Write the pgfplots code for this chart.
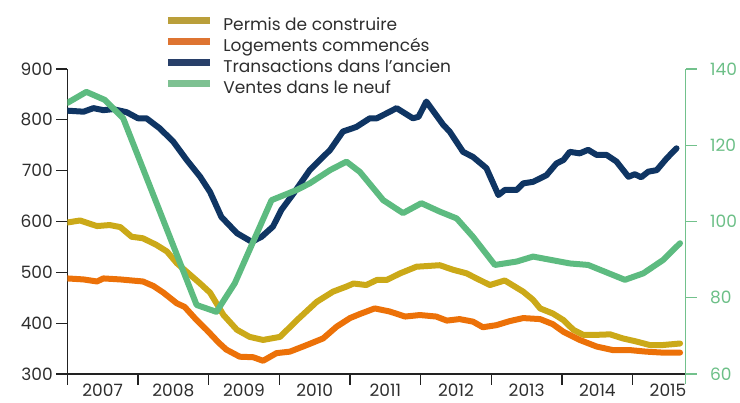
\documentclass[border=0pt]{standalone}
\usepackage{pgfplots}
\pgfplotsset{compat=1.18}
\usepackage{fontspec}
\setmainfont{Poppins}
\definecolor{navyc}{HTML}{0F3563}
\definecolor{greenc}{HTML}{5DBB80}
\definecolor{goldc}{HTML}{CBA918}
\definecolor{orangec}{HTML}{EC7108}
\definecolor{lgold}{HTML}{BA9F3A}
\definecolor{lorange}{HTML}{DE7431}
\definecolor{lnavy}{HTML}{283F69}
\definecolor{lgreen}{HTML}{7EC192}
\definecolor{axisc}{HTML}{222222}
\definecolor{textc}{HTML}{2E2E2E}
\definecolor{gaxis}{HTML}{72C18C}
\definecolor{gtext}{HTML}{6CBF87}
\begin{document}
\begin{tikzpicture}
\pgfplotsset{
  every axis/.append style={scale only axis, width=618.4pt, height=305pt,
    xmin=2007, xmax=2015.75, at={(0pt,0pt)}, anchor=south west,
    /pgf/number format/assume math mode=true,
    ticklabel style={font=\fontsize{17}{20}\selectfont},
    tick align=outside, major tick length=11pt},
  legend image code/.code={\draw[#1, line width=7pt] (0pt,6pt) -- (42pt,6pt);},
}
\path[use as bounding box] (-67.3pt,-29pt) rectangle (672.7pt,374pt);
\begin{axis}[
  ymin=300, ymax=900,
  axis y line*=left, axis x line*=bottom,
  axis line style={draw=axisc, line width=1.5pt, -},
  x axis line style={shorten <=-8pt, shorten >=-10pt},
  tick style={draw=axisc, line width=1.3pt},
  ytick={300,400,...,900},
  yticklabel style={text=textc},
  xtick={2007,...,2015}, xticklabels={},
  extra x ticks={2007.5,2008.5,2009.5,2010.5,2011.5,2012.5,2013.5,2014.5,2015.5},
  extra x tick labels={2007,2008,2009,2010,2011,2012,2013,2014,2015},
  extra x tick style={tick style={draw=none}, xticklabel style={text=textc, yshift=5pt}},
  legend style={at={(0.157,1.1705)}, anchor=north west, draw=none, fill=none,
    inner sep=0pt, outer sep=0pt, row sep=3.5pt,
    font=\fontsize{17}{20}\selectfont, text=textc,
    nodes={inner sep=0pt, text height=12pt, text depth=4pt},
    /tikz/every odd column/.style={column sep=10pt}},
  legend cell align=left,
]
\addlegendimage{lgold}
\addlegendentry{Permis de construire}
\addlegendimage{lorange}
\addlegendentry{Logements commencés}
\addlegendimage{lnavy}
\addlegendentry{Transactions dans l’ancien}
\addlegendimage{lgreen}
\addlegendentry{Ventes dans le neuf}
% Permis de construire
\addplot[forget plot, goldc, line width=6pt, line join=round, line cap=round] coordinates {
(2007.00,598)(2007.18,602)(2007.42,591)(2007.60,593)(2007.75,589)(2007.91,570)(2008.07,567)(2008.26,554)(2008.41,541)(2008.55,518)(2008.69,501)(2008.88,478)(2009.02,460)(2009.21,416)(2009.40,387)(2009.58,373)(2009.77,367)(2010.01,373)(2010.25,406)(2010.53,442)(2010.76,462)(2010.95,472)(2011.05,478)(2011.23,475)(2011.38,485)(2011.52,485)(2011.71,498)(2011.94,511)(2012.27,514)(2012.46,505)(2012.65,498)(2012.79,488)(2012.98,475)(2013.19,484)(2013.45,462)(2013.59,446)(2013.69,429)(2013.87,419)(2014.02,406)(2014.16,387)(2014.30,377)(2014.49,377)(2014.68,378)(2014.86,370)(2015.05,364)(2015.24,357)(2015.43,357)(2015.67,360)
};
% Logements commences
\addplot[forget plot, orangec, line width=6pt, line join=round, line cap=round] coordinates {
(2007.00,488)(2007.23,486)(2007.42,482)(2007.51,488)(2007.75,486)(2008.07,482)(2008.22,473)(2008.36,460)(2008.55,439)(2008.66,432)(2008.83,406)(2008.97,387)(2009.14,362)(2009.25,348)(2009.44,334)(2009.63,333)(2009.77,326)(2009.96,341)(2010.15,344)(2010.39,357)(2010.62,370)(2010.81,393)(2011.00,410)(2011.14,418)(2011.35,429)(2011.56,423)(2011.78,413)(2011.99,416)(2012.22,413)(2012.37,405)(2012.55,408)(2012.74,403)(2012.88,392)(2013.07,396)(2013.26,404)(2013.45,410)(2013.69,408)(2013.87,398)(2014.02,383)(2014.25,367)(2014.49,354)(2014.72,347)(2014.96,347)(2015.19,344)(2015.43,342)(2015.67,342)
};
% Transactions dans l'ancien
\addplot[forget plot, navyc, line width=6pt, line join=round, line cap=round] coordinates {
(2007.00,818)(2007.23,816)(2007.37,823)(2007.51,819)(2007.65,821)(2007.84,815)(2008.00,803)(2008.12,803)(2008.31,783)(2008.50,757)(2008.69,721)(2008.88,688)(2009.02,658)(2009.18,609)(2009.40,577)(2009.61,560)(2009.75,570)(2009.91,590)(2010.03,623)(2010.20,655)(2010.43,701)(2010.72,741)(2010.90,777)(2011.09,786)(2011.28,803)(2011.38,803)(2011.66,823)(2011.89,803)(2011.97,806)(2012.08,836)(2012.32,790)(2012.41,777)(2012.60,737)(2012.74,727)(2012.93,705)(2013.10,652)(2013.19,662)(2013.36,662)(2013.45,675)(2013.59,678)(2013.78,691)(2013.92,714)(2014.02,721)(2014.11,737)(2014.25,734)(2014.37,741)(2014.49,731)(2014.63,731)(2014.77,718)(2014.94,688)(2015.03,693)(2015.12,687)(2015.22,698)(2015.34,701)(2015.48,724)(2015.62,744)
};
\end{axis}
\begin{axis}[
  ymin=60, ymax=140,
  axis y line*=right, axis x line=none,
  axis line style={draw=gaxis, line width=1.5pt, -},
  y axis line style={shorten <=-10pt},
  tick style={draw=gaxis, line width=1.3pt},
  ytick={60,80,...,140},
  yticklabel style={text=gtext, xshift=10pt},
]
% Ventes dans le neuf
\addplot[greenc, line width=6pt, line join=round, line cap=round] coordinates {
(2007.00,131.1)(2007.27,134.0)(2007.53,131.9)(2007.79,127.1)(2008.10,112.5)(2008.45,96.0)(2008.83,78.1)(2009.11,76.3)(2009.37,83.8)(2009.89,105.6)(2010.25,108.3)(2010.43,110.0)(2010.72,113.5)(2010.95,115.7)(2011.14,113.0)(2011.47,105.6)(2011.75,102.2)(2012.01,104.8)(2012.27,102.6)(2012.51,100.8)(2012.74,96.0)(2013.05,88.6)(2013.36,89.5)(2013.59,90.8)(2014.11,89.0)(2014.37,88.6)(2014.89,84.7)(2015.15,86.4)(2015.43,89.9)(2015.67,94.3)
};
\end{axis}
\end{tikzpicture}
\end{document}
